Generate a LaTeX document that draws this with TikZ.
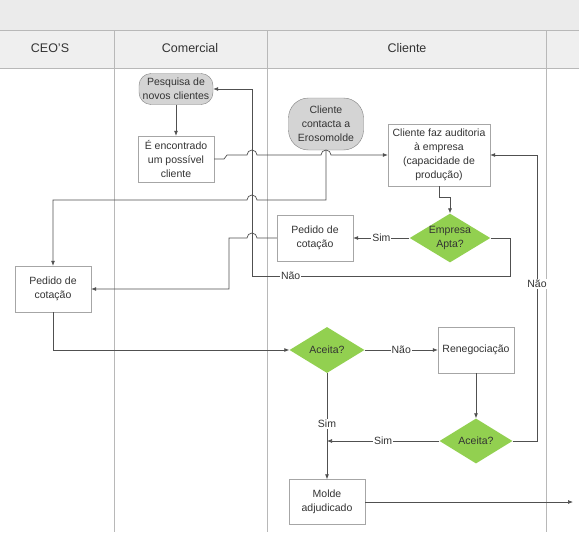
\documentclass[tikz,border=0pt]{standalone}
\usepackage{fontspec}
\setmainfont{Liberation Sans}
\usepackage{xcolor}
\definecolor{topgray}{HTML}{EBEBEB}
\definecolor{headgray}{HTML}{EFEFEF}
\definecolor{laneline}{HTML}{B8B8B8}
\definecolor{decgreen}{HTML}{92D050}
\definecolor{termgray}{HTML}{D4D4D4}
\definecolor{boxline}{HTML}{A6A6A6}
\definecolor{flowline}{HTML}{505050}
\usepackage{tikz}
\usetikzlibrary{arrows.meta, shapes.geometric, positioning, calc}

\tikzset{
  boxfont/.style={font=\fontsize{10.5}{14}\selectfont, text=black!80},
  procbox/.style={boxfont, draw=boxline, fill=white, align=center, minimum width=76pt, minimum height=46pt, inner sep=2pt},
  termbox/.style={boxfont, draw=gray, fill=termgray, align=center, inner sep=2pt},
  decbox/.style={boxfont, diamond, fill=decgreen, aspect=1.65, inner sep=0pt, minimum width=75pt, minimum height=46pt, align=center},
  flow/.style={draw=flowline, line width=0.7pt, -{Latex[length=5pt,width=4pt]}},
  flowlabel/.style={boxfont, fill=white, inner sep=1pt},
  lanehead/.style={font=\fontsize{12.5}{15}\selectfont, text=black!80}
}

\begin{document}
\begin{tikzpicture}[x=1pt, y=-1pt]
  \useasboundingbox (0,0) rectangle (579,538);
  \fill[topgray] (0,0) rectangle (579,30);
  \fill[headgray] (0,30) rectangle (579,68);
  \draw[laneline] (0,30) -- (579,30);
  \draw[laneline] (0,68) -- (579,68);
  \draw[laneline] (114,30) -- (114,532);
  \draw[laneline] (267,30) -- (267,532);
  \draw[laneline] (546,30) -- (546,532);
  \node[lanehead] (ceohead) at (50,48) {CEO'S};
  \node[lanehead] (comhead) at (190,48) {Comercial};
  \node[lanehead] (clihead) at (407,48) {Cliente};

  \node[termbox, minimum width=74pt, minimum height=31pt, rounded corners=12pt, inner sep=1pt] (pesquisa) at (176,89) {Pesquisa de\\novos clientes};
  \node[procbox] (encontrado) at (176,159) {É encontrado\\um possível\\cliente};
  \node[termbox, minimum width=75pt, minimum height=52pt, rounded corners=20pt] (contacta) at (326,124) {Cliente\\contacta a\\Erosomolde};
  \node[procbox, minimum width=102pt, minimum height=62pt] (auditoria) at (439,155) {Cliente faz auditoria\\à empresa\\(capacidade de\\produção)};
  \node[decbox] (apta) at (450,238) {Empresa\\Apta?};
  \node[procbox] (cotcli) at (315,238) {Pedido de\\cotação};
  \node[procbox] (cotceo) at (53,289) {Pedido de\\cotação};
  \node[decbox] (aceitaA) at (327,350) {Aceita?};
  \node[procbox] (reneg) at (476,350) {Renegociação};
  \node[decbox, minimum width=73pt, minimum height=45pt] (aceitaB) at (476,441) {Aceita?};
  \node[procbox, minimum height=45pt] (molde) at (327,502) {Molde\\adjudicado};
  \coordinate (simjoin) at (327,441);
  \coordinate (saida) at (573,502);

  \draw[flow] (pesquisa) -- (encontrado);
  \draw[flow] (encontrado.east) -- (224,159) -- (227,155) -- (247,155)
    arc[start angle=180, end angle=0, radius=5pt] -- (321,155)
    arc[start angle=180, end angle=0, radius=5pt] -- (auditoria.west);
  \draw[flow] (contacta.south) -- (326,200) -- (257,200)
    arc[start angle=0, end angle=180, radius=5pt] -- (53,200) -- (cotceo.north);
  \draw[flow] (apta.east) -- (510,238) -- (510,276) -- (252,276)
    node[flowlabel, pos=0.85] {Não} -- (252,89) -- (pesquisa.east);
  \draw[flow] (apta.west) -- node[flowlabel] {Sim} (cotcli.east);
  \draw[flow] (cotcli.west) -- (257,238)
    arc[start angle=0, end angle=180, radius=5pt] -- (229,238) |- (cotceo.east);
  \draw[flow] (auditoria.south) -- (439,197) -- (450,197) -- (apta.north);
  \draw[flow] (cotceo.south) |- (aceitaA.west);
  \draw[flow] (aceitaA.east) -- node[flowlabel] {Não} (reneg.west);
  \draw[flow] (reneg) -- (aceitaB);
  \draw[flow] (aceitaB.west) -- node[flowlabel] {Sim} (simjoin);
  \draw[flow] (aceitaB.east) -- (537,441) -- (537,155)
    node[flowlabel, pos=0.55] {Não} -- (auditoria.east);
  \draw[flow] (aceitaA.south) -- node[flowlabel, pos=0.48] {Sim} (molde.north);
  \draw[flow] (molde.east) -- (saida);
\end{tikzpicture}
\end{document}
